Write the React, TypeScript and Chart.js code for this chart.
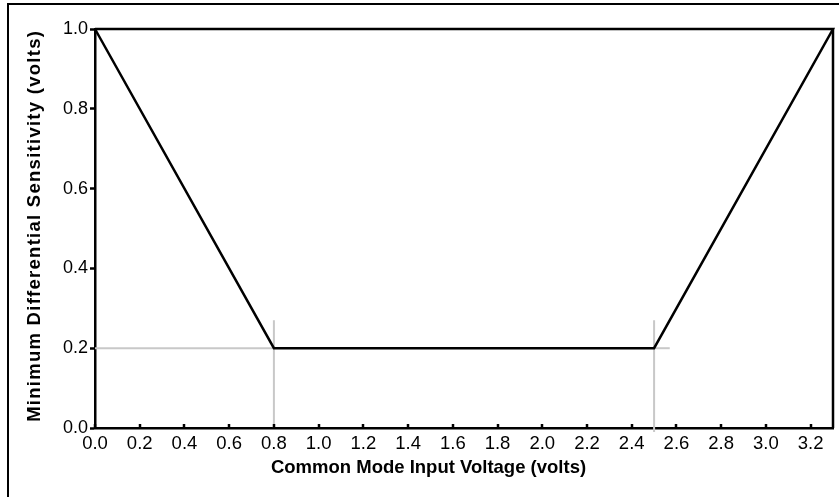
import React, { useEffect, useRef } from "react";
import { Chart, registerables } from "chart.js";
Chart.register(...registerables);

// Data
const outlineX = [0, 0.8, 2.5, 3.3, 0];
const outlineY = [1.0, 0.2, 0.2, 1.0, 1.0];
const rightEdgeX = [3.3, 3.3];
const rightEdgeY = [1.0, 0.0];
const guideLeftHX = [0, 0.8];
const guideLeftHY = [0.2, 0.2];
const guideLeftVX = [0.8, 0.8];
const guideLeftVY = [0.27, 0.0];
const guideRightHX = [2.5, 2.57];
const guideRightHY = [0.2, 0.2];
const guideRightVX = [2.5, 2.5];
const guideRightVY = [0.27, -0.01];
const xTicks = [0, 0.2, 0.4, 0.6, 0.8, 1.0, 1.2, 1.4, 1.6, 1.8, 2.0, 2.2, 2.4, 2.6, 2.8, 3.0, 3.2];
const yTicks = [0, 0.2, 0.4, 0.6, 0.8, 1.0];
const xTitle = "Common Mode Input Voltage (volts)";
const yTitle = "Minimum Differential Sensitivity (volts)";

const zip = (xs: number[], ys: number[]) => xs.map((x, i) => ({ x, y: ys[i] }));

const FONT = "'Liberation Sans', Arial, Helvetica, sans-serif";

export default function App() {
  const ref = useRef<HTMLCanvasElement>(null);
  useEffect(() => {
    if (!ref.current) return;
    const black = "#000000";
    const gray = "#c8c8c8";
    const line = (xs: number[], ys: number[], color: string, width: number) => ({
      data: zip(xs, ys),
      borderColor: color,
      backgroundColor: color,
      borderWidth: width,
      pointRadius: 0,
      showLine: true,
      fill: false,
      tension: 0,
      clip: false as any,
      borderJoinStyle: "miter" as const,
    });
    const extras = {
      id: "extras",
      afterDatasetsDraw(chart: any) {
        const { ctx, scales, chartArea } = chart;
        ctx.save();
        ctx.strokeStyle = black;
        ctx.lineWidth = 2.5;
        xTicks.forEach((v) => {
          const px = Math.round(scales.x.getPixelForValue(v));
          ctx.beginPath();
          ctx.moveTo(px, chartArea.bottom);
          ctx.lineTo(px, chartArea.bottom - 4);
          ctx.stroke();
        });
        ctx.fillStyle = black;
        ctx.textAlign = "center";
        ctx.textBaseline = "middle";
        ctx.font = `bold 18.5px ${FONT}`;
        ctx.fillText(xTitle, chart.width / 2 + 9, 468);
        // y title, stretched to span the plot height
        const target = chartArea.bottom - chartArea.top - 7;
        const w = ctx.measureText(yTitle).width;
        const spacing = Math.max(0, (target - w) / yTitle.length);
        ctx.translate(35, (chartArea.top + chartArea.bottom) / 2 - 2);
        ctx.rotate(-Math.PI / 2);
        (ctx as any).letterSpacing = `${spacing}px`;
        ctx.fillText(yTitle, spacing / 2, 0);
        ctx.restore();
      },
    };
    const chart = new Chart(ref.current, {
      type: "scatter",
      data: {
        datasets: [
          line(outlineX, outlineY, black, 2.5),
          line(rightEdgeX, rightEdgeY, black, 2.5),
          line(guideLeftHX, guideLeftHY, gray, 2),
          line(guideLeftVX, guideLeftVY, gray, 2),
          line(guideRightHX, guideRightHY, gray, 2),
          line(guideRightVX, guideRightVY, gray, 2),
        ] as any,
      },
      options: {
        animation: false,
        responsive: false,
        layout: { padding: { top: 29, right: 6, left: 0, bottom: 0 } },
        plugins: { legend: { display: false }, tooltip: { enabled: false } },
        scales: {
          x: {
            type: "linear",
            min: 0,
            max: 3.3,
            afterBuildTicks: (s: any) => {
              s.ticks = xTicks.map((value) => ({ value }));
            },
            afterFit: (s: any) => {
              s.height = 497 - 428;
            },
            ticks: {
              callback: (v: any) => Number(v).toFixed(1),
              font: { family: FONT, size: 18.5 },
              color: black,
              padding: 5,
              maxRotation: 0,
              autoSkip: false,
            },
            grid: { display: true, drawOnChartArea: false, drawTicks: false },
            border: { color: black, width: 2.5 },
          },
          y: {
            type: "linear",
            min: 0,
            max: 1,
            afterBuildTicks: (s: any) => {
              s.ticks = yTicks.map((value) => ({ value }));
            },
            afterFit: (s: any) => {
              s.width = 95;
            },
            ticks: {
              callback: (v: any) => Number(v).toFixed(1),
              font: { family: FONT, size: 18 },
              color: black,
              padding: 2,
              autoSkip: false,
            },
            grid: {
              display: true,
              drawOnChartArea: false,
              drawTicks: true,
              tickLength: 5,
              tickWidth: 2.5,
              tickColor: black,
            },
            border: { color: black, width: 2.5 },
          },
        },
      },
      plugins: [extras],
    });
    return () => chart.destroy();
  }, []);
  return (
    <div style={{ position: "fixed", left: 0, top: 0, width: 839, height: 497, background: "#fff", overflow: "hidden" }}>
      <div
        style={{
          position: "absolute",
          left: 7,
          top: 3,
          width: 1000,
          height: 1000,
          border: "2px solid #000",
        }}
      />
      <canvas ref={ref} width={839} height={497} style={{ position: "absolute", left: 0, top: 0 }} />
    </div>
  );
}
